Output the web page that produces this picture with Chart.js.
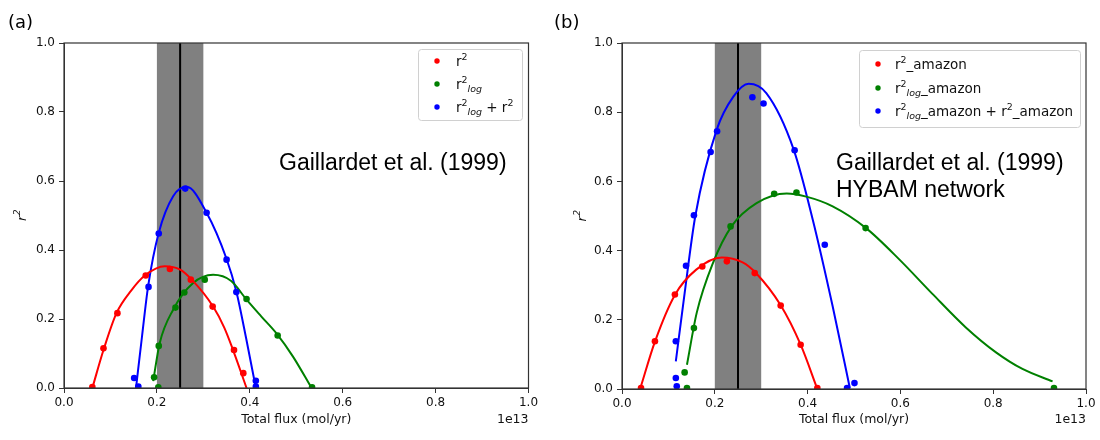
<!DOCTYPE html>
<html><head><meta charset="utf-8">
<script src="https://cdn.jsdelivr.net/npm/chart.js@4.4.1/dist/chart.umd.min.js"></script>
<style>
html,body{margin:0;padding:0;background:#fff;width:1100px;height:440px;overflow:hidden}
.wrap{position:absolute;top:0;width:550px;height:440px}
</style></head><body>
<div class="wrap" style="left:0"><canvas id="ca" width="550" height="440"></canvas></div>
<div class="wrap" style="left:550px"><canvas id="cb" width="550" height="440"></canvas></div>
<script>
// ---------- shared axis / annotation values ----------
const xTicks = [0.0, 0.2, 0.4, 0.6, 0.8, 1.0];
const yTicks = [0.0, 0.2, 0.4, 0.6, 0.8, 1.0];
const bandRange = [0.2, 0.3];
const vLine = 0.25;
const xTitle = 'Total flux (mol/yr)';
const xOffsetText = '1e13';

// ---------- panel (a): measured points ----------
const a_r2_x   = [0.061, 0.085, 0.115, 0.176, 0.228, 0.273, 0.320, 0.366, 0.386];
const a_r2_y   = [0.003, 0.115, 0.217, 0.326, 0.345, 0.314, 0.236, 0.110, 0.043];
const a_log_x  = [0.194, 0.203, 0.204, 0.240, 0.259, 0.303, 0.393, 0.460, 0.534];
const a_log_y  = [0.031, 0.002, 0.122, 0.233, 0.277, 0.314, 0.258, 0.152, 0.002];
const a_sum_x  = [0.151, 0.160, 0.182, 0.204, 0.261, 0.307, 0.350, 0.371, 0.413, 0.413];
const a_sum_y  = [0.029, 0.004, 0.293, 0.448, 0.578, 0.508, 0.372, 0.278, 0.021, 0.004];
// panel (a): fitted curves
const a_r2_fit_x  = [0.061, 0.085, 0.113, 0.145, 0.174, 0.217, 0.250, 0.275, 0.321, 0.345, 0.364, 0.393];
const a_r2_fit_y  = [0.000, 0.110, 0.217, 0.283, 0.326, 0.353, 0.343, 0.314, 0.236, 0.175, 0.110, 0.000];
const a_log_fit_x = [0.192, 0.206, 0.235, 0.278, 0.321, 0.360, 0.393, 0.425, 0.457, 0.493, 0.533];
const a_log_fit_y = [0.020, 0.130, 0.227, 0.304, 0.328, 0.310, 0.256, 0.207, 0.159, 0.091, 0.000];
const a_sum_fit_x = [0.155, 0.168, 0.181, 0.204, 0.235, 0.264, 0.307, 0.350, 0.371, 0.392, 0.413];
const a_sum_fit_y = [0.000, 0.150, 0.294, 0.450, 0.556, 0.583, 0.508, 0.374, 0.280, 0.145, 0.000];

// ---------- panel (b): measured points ----------
const b_r2_x   = [0.041, 0.071, 0.114, 0.173, 0.226, 0.286, 0.342, 0.385, 0.421];
const b_r2_y   = [0.003, 0.138, 0.273, 0.354, 0.369, 0.335, 0.241, 0.128, 0.003];
const b_log_x  = [0.140, 0.135, 0.155, 0.234, 0.328, 0.376, 0.525, 0.931];
const b_log_y  = [0.003, 0.048, 0.176, 0.470, 0.564, 0.568, 0.465, 0.003];
const b_sum_x  = [0.116, 0.118, 0.116, 0.138, 0.155, 0.191, 0.205, 0.281, 0.305, 0.372, 0.437, 0.485, 0.501];
const b_sum_y  = [0.032, 0.008, 0.138, 0.356, 0.502, 0.685, 0.745, 0.843, 0.825, 0.690, 0.417, 0.003, 0.017];
// panel (b): fitted curves
const b_r2_fit_x  = [0.039, 0.071, 0.114, 0.160, 0.215, 0.260, 0.288, 0.342, 0.385, 0.421];
const b_r2_fit_y  = [0.000, 0.137, 0.272, 0.345, 0.380, 0.366, 0.336, 0.242, 0.128, 0.000];
const b_log_fit_x = [0.140, 0.161, 0.196, 0.236, 0.290, 0.355, 0.397, 0.454, 0.526, 0.598, 0.669, 0.741, 0.806, 0.863, 0.928];
const b_log_fit_y = [0.070, 0.220, 0.364, 0.470, 0.537, 0.565, 0.556, 0.528, 0.465, 0.374, 0.275, 0.178, 0.106, 0.058, 0.022];
const b_sum_fit_x = [0.116, 0.135, 0.158, 0.204, 0.240, 0.273, 0.311, 0.370, 0.411, 0.454, 0.491];
const b_sum_fit_y = [0.080, 0.277, 0.500, 0.749, 0.845, 0.882, 0.855, 0.692, 0.490, 0.239, 0.003];

// ---------- text ----------
const a_legend = [
  [{t:'r'},{t:'2',sup:1}],
  [{t:'r'},{t:'2',sup:1},{t:'log',sub:1}],
  [{t:'r'},{t:'2',sup:1},{t:'log',sub:1},{t:' + r'},{t:'2',sup:1}]
];
const b_legend = [
  [{t:'r'},{t:'2',sup:1},{t:'_amazon'}],
  [{t:'r'},{t:'2',sup:1},{t:'log',sub:1},{t:'_amazon'}],
  [{t:'r'},{t:'2',sup:1},{t:'log',sub:1},{t:'_amazon + r'},{t:'2',sup:1},{t:'_amazon'}]
];
const a_note = ['Gaillardet et al. (1999)'];
const b_note = ['Gaillardet et al. (1999)', 'HYBAM network'];
const colors = ['#ff0000', '#008000', '#0000ff'];

function zip(xs, ys){ return xs.map((x,i)=>({x:x, y:ys[i]})); }

function drawRich(ctx, segs, x, yBase, size){
  let cx = x;
  segs.forEach(s=>{
    let f = size, dy = 0, style = '';
    if (s.sup){ f = size*0.7; dy = -size*0.42; }
    if (s.sub){ f = size*0.7; dy = size*0.25; style = 'italic '; }
    ctx.font = style + f + 'px "DejaVu Sans"';
    ctx.fillText(s.t, cx, yBase + dy);
    cx += ctx.measureText(s.t).width;
  });
}

function makeChart(id, cfg){
  const sets = [];
  cfg.points.forEach((p,i)=>{
    sets.push({type:'scatter', data: zip(p[0],p[1]), backgroundColor: colors[i], borderWidth:0, pointRadius:3.3, pointHoverRadius:3.3, order:1});
  });
  cfg.fits.forEach((p,i)=>{
    sets.push({type:'line', data: zip(p[0],p[1]), borderColor: colors[i], borderWidth:2, pointRadius:0, fill:false, cubicInterpolationMode:'monotone', order:2});
  });
  const deco = {
    id:'deco'+id,
    beforeDatasetsDraw(chart){
      const {ctx, chartArea:a, scales:{x}} = chart;
      ctx.save();
      ctx.fillStyle = '#808080';
      const x0 = x.getPixelForValue(bandRange[0]), x1 = x.getPixelForValue(bandRange[1]);
      ctx.fillRect(x0, a.top, x1-x0, a.bottom-a.top);
      ctx.strokeStyle = '#000'; ctx.lineWidth = 2;
      const xv = x.getPixelForValue(vLine);
      ctx.beginPath(); ctx.moveTo(xv, a.top); ctx.lineTo(xv, a.bottom); ctx.stroke();
      ctx.restore();
    },
    afterDraw(chart){
      const {ctx, chartArea:a} = chart;
      ctx.save();
      // frame
      ctx.strokeStyle = '#333'; ctx.lineWidth = 1.2;
      ctx.strokeRect(a.left, a.top, a.right-a.left, a.bottom-a.top);
      // axis titles
      ctx.fillStyle = '#111';
      ctx.font = '12.5px "DejaVu Sans"'; ctx.textAlign = 'center'; ctx.textBaseline = 'middle';
      ctx.fillText(xTitle, (a.left+a.right)/2, 420);
      ctx.font = '12.5px "DejaVu Sans"'; ctx.textAlign = 'right';
      ctx.fillText(xOffsetText, a.right, 420);
      // y title r^2
      ctx.save();
      ctx.translate(cfg.yTitleX, (a.top+a.bottom)/2);
      ctx.rotate(-Math.PI/2);
      ctx.textAlign = 'left'; ctx.textBaseline = 'alphabetic';
      ctx.font = 'italic 13px "DejaVu Sans"';
      const w1 = ctx.measureText('r').width;
      ctx.font = 'italic 9px "DejaVu Sans"';
      const w2 = ctx.measureText('2').width;
      const sx = -(w1+w2)/2;
      ctx.font = 'italic 13px "DejaVu Sans"'; ctx.fillText('r', sx, 4.5);
      ctx.font = 'italic 9px "DejaVu Sans"'; ctx.fillText('2', sx+w1+0.5, -1.5);
      ctx.restore();
      // panel label
      ctx.fillStyle = '#000';
      ctx.font = '18px "DejaVu Sans"'; ctx.textAlign = 'left'; ctx.textBaseline = 'middle';
      ctx.fillText(cfg.panel, cfg.panelX, 23);
      // note
      ctx.font = '23px "Liberation Sans"'; ctx.textBaseline = 'alphabetic';
      cfg.note.forEach((t,i)=> ctx.fillText(t, cfg.noteX, 170 + i*26.7));
      // legend
      const L = cfg.legend;
      ctx.fillStyle = 'rgba(255,255,255,0.85)';
      ctx.strokeStyle = '#d0d0d0'; ctx.lineWidth = 1;
      ctx.beginPath();
      if (ctx.roundRect) ctx.roundRect(L.x0+0.5, L.y0+0.5, L.x1-L.x0, L.y1-L.y0, 3); else ctx.rect(L.x0+0.5, L.y0+0.5, L.x1-L.x0, L.y1-L.y0);
      ctx.fill(); ctx.stroke();
      L.rows.forEach((ry,i)=>{
        ctx.fillStyle = colors[i];
        ctx.beginPath(); ctx.arc(L.mx, ry, 2.7, 0, Math.PI*2); ctx.fill();
        ctx.fillStyle = '#111';
        ctx.textAlign = 'left'; ctx.textBaseline = 'alphabetic';
        drawRich(ctx, cfg.legendText[i], L.tx, ry + 5, 13.5);
      });
      ctx.restore();
    }
  };
  return new Chart(document.getElementById(id), {
    data: {datasets: sets},
    options: {
      responsive:false, animation:false, devicePixelRatio:1,
      layout: {padding: {left:0, right: cfg.padRight, top: cfg.padTop, bottom:0}},
      plugins: {legend:{display:false}, tooltip:{enabled:false}},
      scales: {
        x: {type:'linear', position:'bottom', min:0, max:1,
            afterBuildTicks: s => { s.ticks = xTicks.map(v=>({value:v})); },
            afterFit: s => { s.height = cfg.xAxisH; },
            ticks: {callback: v => v.toFixed(1), font:{family:'DejaVu Sans', size:12}, color:'#111', padding:3, maxRotation:0},
            grid: {display:true, drawOnChartArea:false, drawTicks:true, tickLength:5, color:'#333'},
            border: {display:true, color:'#333'}},
        y: {type:'linear', position:'left', min:0, max:1,
            afterBuildTicks: s => { s.ticks = yTicks.map(v=>({value:v})); },
            afterFit: s => { s.width = cfg.yAxisW; },
            ticks: {callback: v => v.toFixed(1), font:{family:'DejaVu Sans', size:12}, color:'#111', padding:4},
            grid: {display:true, drawOnChartArea:false, drawTicks:true, tickLength:5, color:'#333'},
            border: {display:true, color:'#333'}}
      }
    },
    plugins: [deco]
  });
}

makeChart('ca', {
  points: [[a_r2_x,a_r2_y],[a_log_x,a_log_y],[a_sum_x,a_sum_y]],
  fits: [[a_r2_fit_x,a_r2_fit_y],[a_log_fit_x,a_log_fit_y],[a_sum_fit_x,a_sum_fit_y]],
  padRight: 21.5, padTop: 43, xAxisH: 52, yAxisW: 64,
  yTitleX: 21, panel: '(a)', panelX: 8, note: a_note, noteX: 279,
  legend: {x0:418, y0:49, x1:522, y1:120, mx:437, tx:456, rows:[61,84,107]},
  legendText: a_legend
});
makeChart('cb', {
  points: [[b_r2_x,b_r2_y],[b_log_x,b_log_y],[b_sum_x,b_sum_y]],
  fits: [[b_r2_fit_x,b_r2_fit_y],[b_log_fit_x,b_log_fit_y],[b_sum_fit_x,b_sum_fit_y]],
  padRight: 14, padTop: 43, xAxisH: 51, yAxisW: 72,
  yTitleX: 31, panel: '(b)', panelX: 4, note: b_note, noteX: 286,
  legend: {x0:309, y0:50, x1:530, y1:127, mx:328, tx:345, rows:[64,88,111]},
  legendText: b_legend
});
</script>
</body></html>
